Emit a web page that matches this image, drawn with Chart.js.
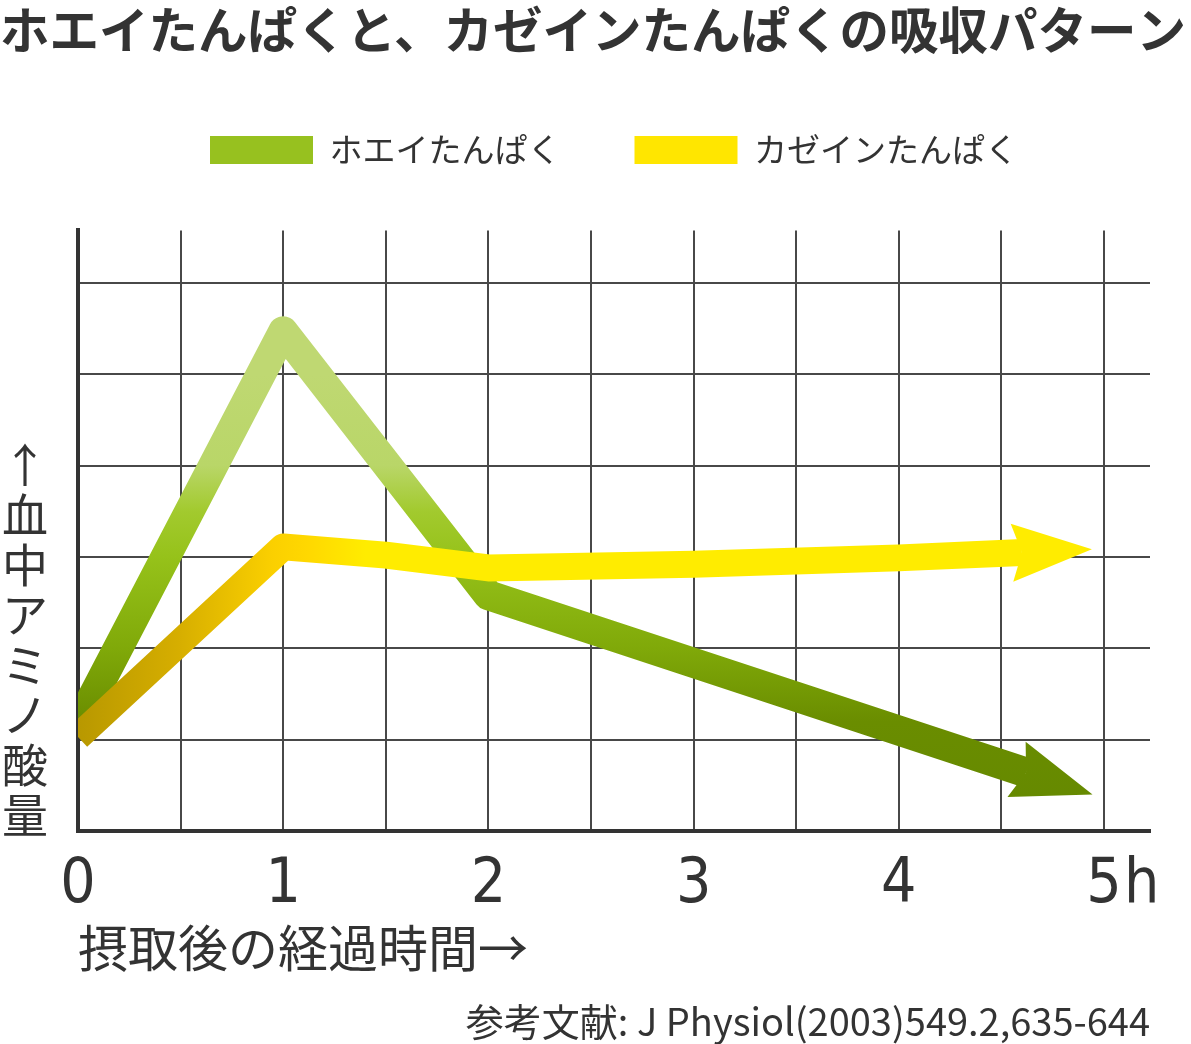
<!DOCTYPE html>
<html lang="ja">
<head>
<meta charset="utf-8">
<title>ホエイたんぱくと、カゼインたんぱくの吸収パターン</title>
<script src="https://cdn.jsdelivr.net/npm/chart.js@4.4.1/dist/chart.umd.min.js"></script>
<style>
  html, body { margin: 0; padding: 0; background: #fff; }
  #wrap { width: 1191px; height: 1044px; }
</style>
</head>
<body>
<div id="wrap"><canvas id="absorptionChart"></canvas></div>
<script>
let titleText = "ホエイたんぱくと、カゼインたんぱくの吸収パターン";
let seriesNames = ["ホエイたんぱく", "カゼインたんぱく"];
let wheyHours = [0, 1, 2, 4.62];
let wheyLevels = [1.16, 5.47, 2.58, 0.64];
let caseinHours = [0, 1, 1.5, 2, 3, 4, 4.6];
let caseinLevels = [1.03, 3.11, 3.02, 2.88, 2.92, 2.99, 3.05];
let hourTicks = [0, 0.5, 1, 1.5, 2, 2.5, 3, 3.5, 4, 4.5, 5];
let levelTicks = [1, 2, 3, 4, 5, 6];
let xTitle = "摂取後の経過時間→";
let yTitle = "↑血中アミノ酸量";
let hourUnit = "h";
let sourceNote = "参考文献: J Physiol(2003)549.2,635-644";

const textFont = "'Noto Sans CJK JP', 'Noto Sans', sans-serif";
const numFont = "'Liberation Sans Narrow', 'DejaVu Sans Condensed', 'Liberation Sans', sans-serif";
const legendColors = ["#97c11f", "#ffe600"];

// whey line goes from dark olive (low) to light green (high)
function wheyGradient(context) {
  const { ctx, chartArea, scales } = context.chart;
  if (!chartArea) return legendColors[0];
  const g = ctx.createLinearGradient(0, scales.y.getPixelForValue(0), 0, scales.y.getPixelForValue(6));
  g.addColorStop(0, "#648800");
  g.addColorStop(1.2 / 6, "#6a8d00");
  g.addColorStop(2 / 6, "#80a909");
  g.addColorStop(3 / 6, "#96c21a");
  g.addColorStop(3.5 / 6, "#a2ca2e");
  g.addColorStop(4 / 6, "#b9d668");
  g.addColorStop(5 / 6, "#bfd872");
  g.addColorStop(1, "#bfd872");
  return g;
}

// casein line goes from dark gold at 0h to bright yellow after 1h
function caseinGradient(context) {
  const { ctx, chartArea, scales } = context.chart;
  if (!chartArea) return legendColors[1];
  const g = ctx.createLinearGradient(scales.x.getPixelForValue(0), 0, scales.x.getPixelForValue(1.4), 0);
  g.addColorStop(0, "#b89800");
  g.addColorStop(0.35, "#d6ae00");
  g.addColorStop(0.68, "#fbd000");
  g.addColorStop(0.8, "#ffd800");
  g.addColorStop(1, "#ffec00");
  return g;
}

// extra room between the legend and the plot
const legendSpacing = {
  id: "legendSpacing",
  beforeInit(chart) {
    const fit = chart.legend.fit;
    chart.legend.fit = function () {
      fit.call(this);
      this.height += 54;
    };
  },
};

// notched arrow head at the end of each line
const arrowHeads = {
  id: "arrowHeads",
  afterDatasetDraw(chart, args) {
    const pts = args.meta.data;
    const end = pts[pts.length - 1];
    const prev = pts[pts.length - 2];
    const dx = end.x - prev.x;
    const dy = end.y - prev.y;
    const len = Math.hypot(dx, dy);
    const ux = dx / len;
    const uy = dy / len;
    const headLen = 70, back = 10, half = 29;
    const ctx = chart.ctx;
    ctx.save();
    ctx.fillStyle = args.meta.dataset.options.borderColor;
    ctx.beginPath();
    ctx.moveTo(end.x + ux * headLen, end.y + uy * headLen);
    ctx.lineTo(end.x - ux * back - uy * half, end.y - uy * back + ux * half);
    ctx.lineTo(end.x, end.y);
    ctx.lineTo(end.x - ux * back + uy * half, end.y - uy * back - ux * half);
    ctx.closePath();
    ctx.fill();
    ctx.restore();
  },
};

// vertical y title and the "h" unit next to the last tick
const extraText = {
  id: "extraText",
  afterDraw(chart) {
    const { ctx, chartArea, scales } = chart;
    ctx.save();
    ctx.fillStyle = "#333";
    ctx.textAlign = "center";
    ctx.textBaseline = "middle";
    ctx.font = "46px " + textFont;
    const chars = Array.from(yTitle);
    chars.forEach((ch, i) => {
      ctx.fillText(ch, 25, chartArea.bottom - 16 - (chars.length - 1 - i) * 50);
    });
    ctx.textAlign = "left";
    ctx.font = "62px " + numFont;
    ctx.fillText(hourUnit, scales.x.getPixelForValue(5) + 20, chartArea.bottom + 18 + 37);
    ctx.restore();
  },
};

new Chart(document.querySelector("#absorptionChart"), {
  type: "line",
  data: {
    datasets: [
      {
        label: seriesNames[0],
        data: wheyHours.map((h, i) => ({ x: h, y: wheyLevels[i] })),
        borderColor: wheyGradient,
        backgroundColor: legendColors[0],
        borderWidth: 30,
        borderJoinStyle: "round",
        pointRadius: 0,
        order: 1,
        clip: 0,
      },
      {
        label: seriesNames[1],
        data: caseinHours.map((h, i) => ({ x: h, y: caseinLevels[i] })),
        borderColor: caseinGradient,
        backgroundColor: legendColors[1],
        borderWidth: 27,
        borderJoinStyle: "round",
        pointRadius: 0,
        order: 0,
        clip: 0,
      },
    ],
  },
  options: {
    animation: false,
    responsive: true,
    maintainAspectRatio: false,
    layout: { padding: 0 },
    scales: {
      x: {
        type: "linear",
        min: 0,
        max: 5.224,
        afterBuildTicks: (scale) => {
          scale.ticks = hourTicks.map((v) => ({ value: v }));
        },
        grid: { color: "#484848", lineWidth: 2, drawTicks: false },
        border: { color: "#333", width: 4 },
        ticks: {
          autoSkip: false,
          maxRotation: 0,
          padding: 18,
          color: "#333",
          font: { size: 62, family: numFont },
          callback: (value) => (Number.isInteger(value) ? String(value) : ""),
        },
        title: {
          display: true,
          text: xTitle,
          align: "start",
          color: "#333",
          font: { size: 50, family: textFont },
          padding: { top: -23, bottom: 20 },
        },
      },
      y: {
        min: 0,
        max: 6.575,
        afterBuildTicks: (scale) => {
          scale.ticks = levelTicks.map((v) => ({ value: v }));
        },
        afterFit: (scale) => {
          scale.width = 78;
        },
        grid: { color: "#484848", lineWidth: 2, drawTicks: false },
        border: { color: "#333", width: 4 },
        ticks: { display: false },
      },
      y2: {
        position: "right",
        min: 0,
        max: 1,
        afterFit: (scale) => {
          scale.width = 41;
        },
        grid: { display: false },
        border: { display: false },
        ticks: { display: false },
      },
    },
    plugins: {
      title: {
        display: true,
        text: titleText,
        align: "start",
        color: "#333",
        font: { size: 49.5, weight: "bold", family: textFont },
        padding: 0,
      },
      subtitle: {
        display: true,
        position: "bottom",
        align: "end",
        fullSize: false,
        text: sourceNote,
        color: "#333",
        font: { size: 38, family: textFont },
        padding: 0,
      },
      legend: {
        fullSize: false,
        labels: {
          boxWidth: 103,
          boxHeight: 28,
          padding: 74,
          color: "#333",
          font: { size: 33, family: textFont },
          sort: (a, b) => a.datasetIndex - b.datasetIndex,
          generateLabels: (chart) =>
            Chart.defaults.plugins.legend.labels.generateLabels(chart).map((item) => ({
              ...item,
              fillStyle: legendColors[item.datasetIndex],
              strokeStyle: legendColors[item.datasetIndex],
              lineWidth: 0,
            })),
        },
      },
      tooltip: { enabled: false },
    },
  },
  plugins: [legendSpacing, arrowHeads, extraText],
});
</script>
</body>
</html>
